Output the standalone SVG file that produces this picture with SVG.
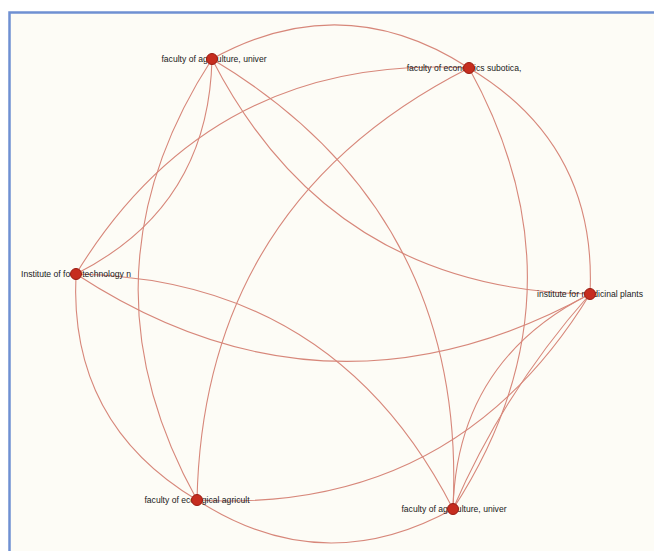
<svg xmlns="http://www.w3.org/2000/svg" width="654" height="551" viewBox="0 0 654 551">
<style>
.edge{fill:none;stroke:#d7877a;stroke-width:1.1}
.lbl{font-family:"Liberation Sans",Arial,sans-serif;font-size:8.6px;fill:#1a1a1a;text-anchor:middle}
.node{fill:#c62d1f;stroke:#9a1c12;stroke-width:1}
</style>
<rect x="0" y="0" width="654" height="551" fill="#ffffff"/>
<rect x="9.5" y="12.5" width="660" height="560" fill="#fdfcf6" stroke="#6f90d2" stroke-width="2.5"/>
<g id="connectors">
<path class="edge" d="M469,68 Q343.2,-13.6 212,59"/>
<path class="edge" d="M590,294 Q597.3,144.7 469,68"/>
<path class="edge" d="M469,68 Q210.7,53.1 76,274"/>
<path class="edge" d="M469,68 Q203.4,202.4 197,500"/>
<path class="edge" d="M453,509 Q593.3,293.3 469,68"/>
<path class="edge" d="M212,59 Q72.2,275 197,500"/>
<path class="edge" d="M76,274 Q208.5,207.3 212,59"/>
<path class="edge" d="M212,59 Q330.5,289.9 590,294"/>
<path class="edge" d="M453,509 Q467.5,211.7 212,59"/>
<path class="edge" d="M76,274 Q68.7,423.3 197,500"/>
<path class="edge" d="M76,274 Q327,438.2 590,294"/>
<path class="edge" d="M453,509 Q335,278.4 76,274"/>
<path class="edge" d="M197,500 Q455.3,514.9 590,294"/>
<path class="edge" d="M197,500 Q322.3,581.3 453,509"/>
<path class="edge" d="M590,294 Q457,360.4 453,509"/>
<path class="edge" d="M590,294 Q504.3,390.5 453,509"/>
</g>
<g id="n1"><text class="lbl" x="214" y="62">faculty of agriculture, univer</text><circle class="node" cx="212" cy="59" r="5.5"/></g>
<g id="n2"><text class="lbl" x="464" y="71">faculty of economics subotica,</text><circle class="node" cx="469" cy="68" r="5.5"/></g>
<g id="n3"><text class="lbl" x="76" y="277">Institute of food technology n</text><circle class="node" cx="76" cy="274" r="5.5"/></g>
<g id="n4"><text class="lbl" x="590" y="297">institute for medicinal plants</text><circle class="node" cx="590" cy="294" r="5.5"/></g>
<g id="n5"><text class="lbl" x="197" y="503">faculty of ecological agricult</text><circle class="node" cx="197" cy="500" r="5.5"/></g>
<g id="n6"><text class="lbl" x="454" y="512">faculty of agriculture, univer</text><circle class="node" cx="453" cy="509" r="5.5"/></g>
</svg>
